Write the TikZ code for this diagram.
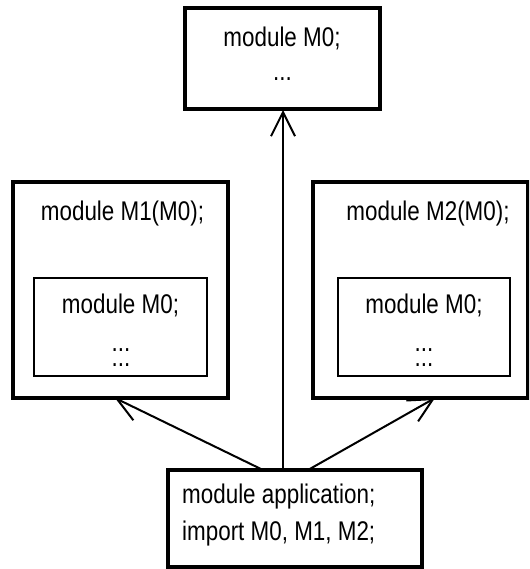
\documentclass[tikz,border=0pt]{standalone}
\usepackage{fontspec}
\setmainfont{Liberation Sans}[FakeStretch=0.83]
\usetikzlibrary{arrows.meta}
\begin{document}
\begin{tikzpicture}[x=1pt,y=-1pt,
  thickbox/.style={draw=black,line width=4pt,inner sep=0pt,fill=white},
  thinbox/.style={draw=black,line width=2pt,inner sep=0pt},
  txt/.style={inner sep=0pt,anchor=base,font=\fontsize{27}{31}\selectfont},
  dots/.style={txt,text height=4pt,text depth=0pt},
  conn/.style={line width=2pt,-{Straight Barb[length=24pt,width=24pt,line width=2pt]}}]
\useasboundingbox (0,0) rectangle (529,569);
\clip (0,0) rectangle (529,569);
% boxes
\node[thickbox,minimum width=195pt,minimum height=101pt] (top) at (282.5,58.5) {};
\node[thickbox,minimum width=215pt,minimum height=216pt] (m1) at (120.5,290) {};
\node[thickbox,minimum width=215pt,minimum height=216pt] (m2) at (420.5,290) {};
\node[thinbox,minimum width=173pt,minimum height=98pt] (m1in) at (120.5,327) {};
\node[thinbox,minimum width=172pt,minimum height=98pt] (m2in) at (424,327) {};
\node[thickbox,minimum width=254pt,minimum height=97pt] (app) at (295,518.5) {};
% texts
\node[txt] (toptxt) at (282,47) {module M0;};
\node[dots] (topdots) at (282.5,81) {...};
\node[txt] (m1txt) at (122.5,220) {module M1(M0);};
\node[txt] (m2txt) at (428,220) {module M2(M0);};
\node[txt] (m1intxt) at (120.5,313) {module M0;};
\node[dots] (m1dots1) at (121,351) {...};
\node[dots] (m1dots2) at (121,366) {...};
\node[txt] (m2intxt) at (424,313) {module M0;};
\node[dots] (m2dots1) at (424,351) {...};
\node[dots] (m2dots2) at (424,366) {...};
\node[txt,anchor=base west] (apptxt1) at (182,503) {module application;};
\node[txt,anchor=base west] (apptxt2) at (182,540) {import M0, M1, M2;};
% connectors
\coordinate (s0) at (283,470);
\coordinate (s1) at (263,470);
\coordinate (s2) at (308,470);
\coordinate (t0) at (283,110);
\coordinate (t1) at (115,398);
\coordinate (t2) at (435,398);
\draw[conn] (s0) -- (t0);
\draw[conn] (s1) -- (t1);
\draw[conn] (s2) -- (t2);
\end{tikzpicture}
\end{document}
